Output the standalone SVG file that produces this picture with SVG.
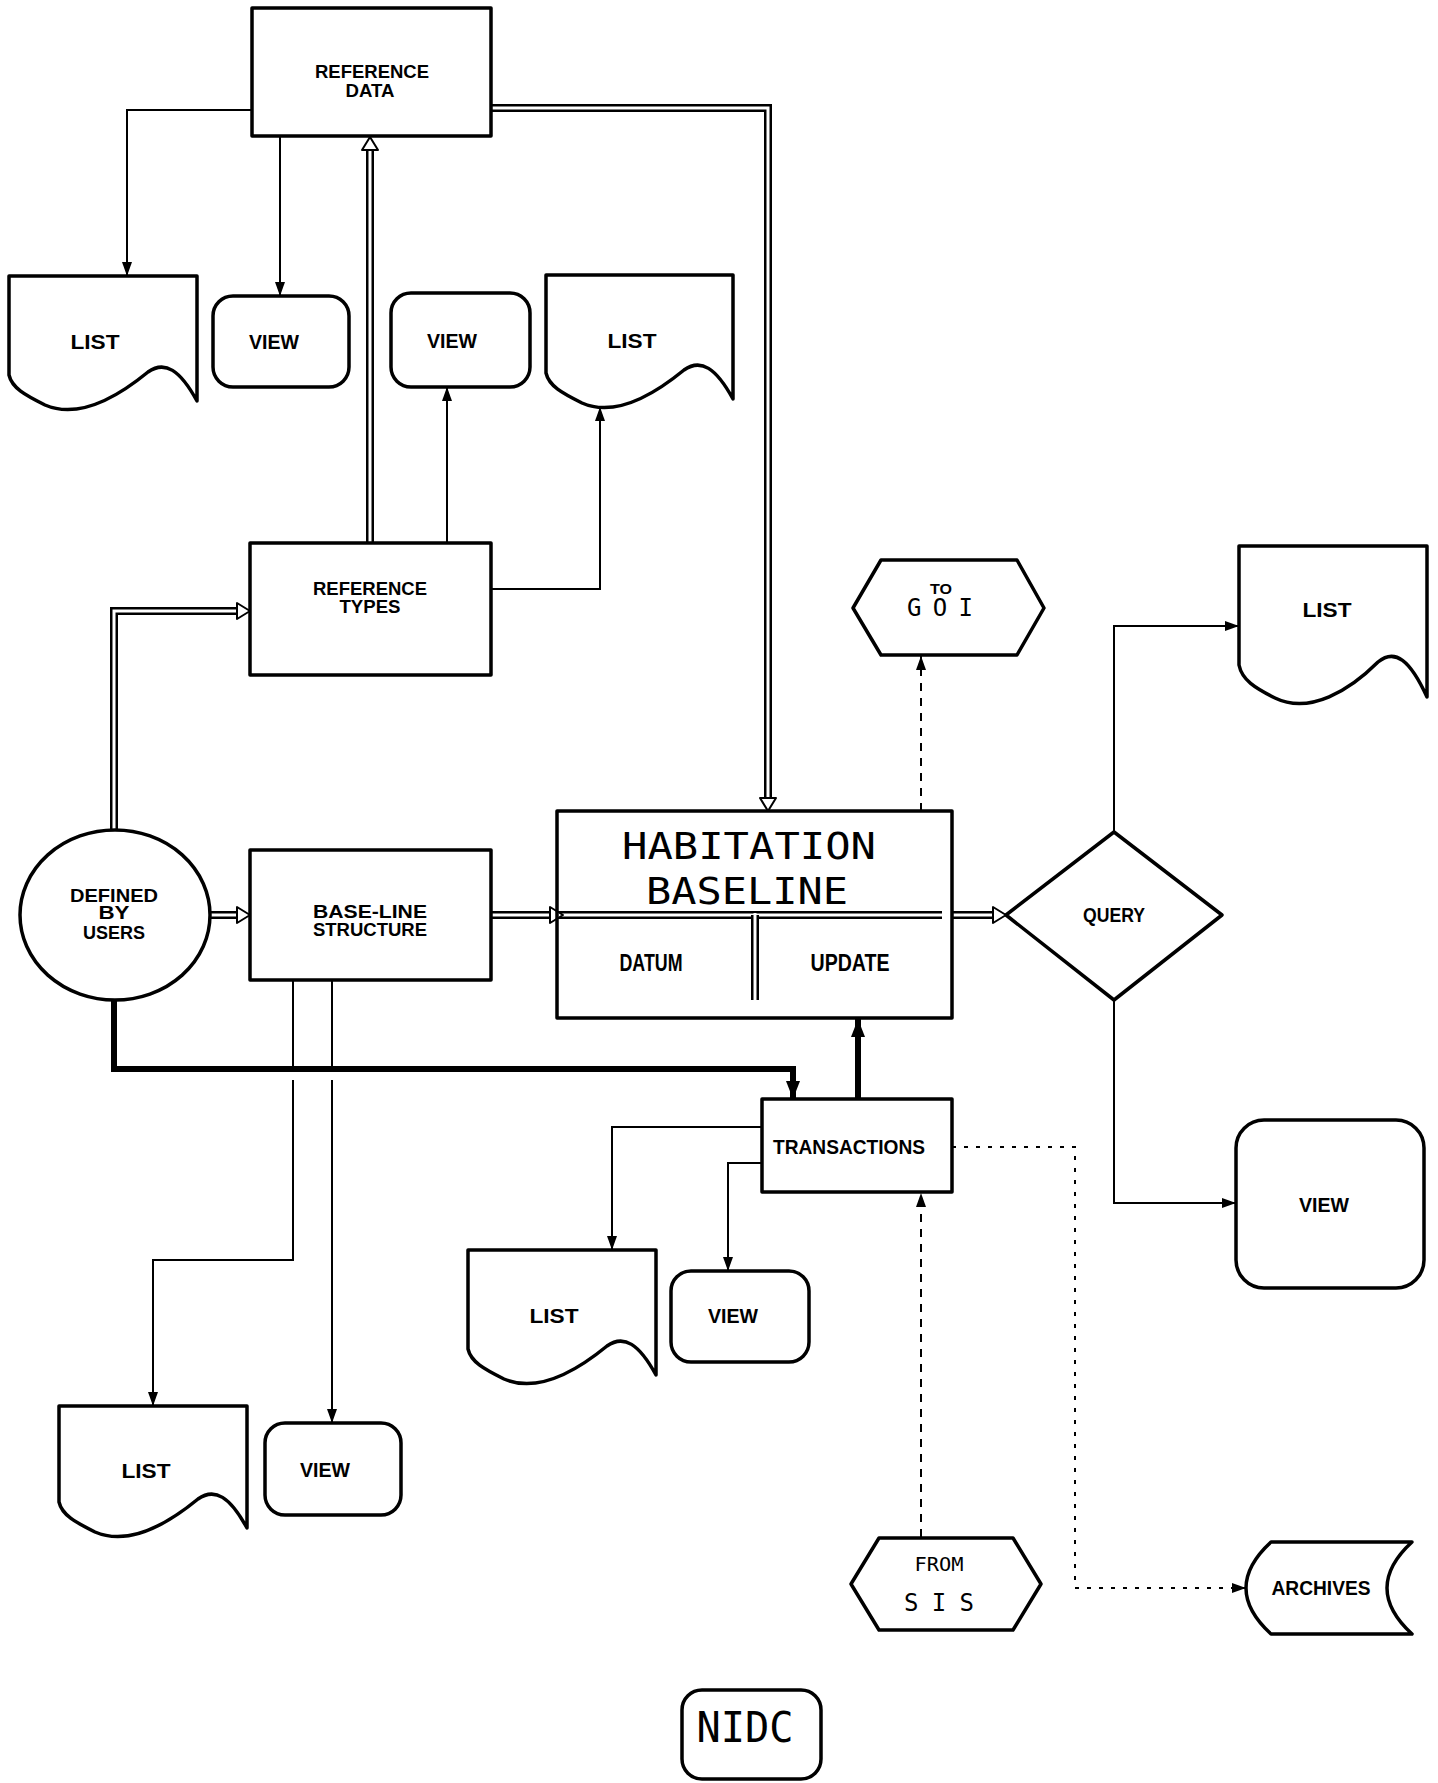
<svg xmlns="http://www.w3.org/2000/svg" xmlns:xlink="http://www.w3.org/1999/xlink" width="1438" height="1783" viewBox="0 0 1438 1783">
<style>
.box{fill:#fff;stroke:#000;stroke-width:3.5;stroke-linejoin:round}
.ln{fill:none;stroke:#000;stroke-width:2}
.thick{fill:none;stroke:#000;stroke-width:6}
.dash{fill:none;stroke:#000;stroke-width:2;stroke-dasharray:8 7}
.dot{fill:none;stroke:#000;stroke-width:2;stroke-dasharray:4 8}
.dbo{fill:none;stroke:#000;stroke-width:8}
.dbi{fill:none;stroke:#fff;stroke-width:3}
.hol{fill:#fff;stroke:#000;stroke-width:2;stroke-linejoin:round}
.t{font-family:"Liberation Sans",Arial,sans-serif;font-weight:bold;font-size:21px;text-anchor:middle;fill:#000}
.s{font-size:18px}
.m{font-family:"DejaVu Sans Mono","Liberation Mono",monospace;font-weight:normal;text-anchor:middle;fill:#000}
</style>
<defs>
<marker id="ah" viewBox="0 0 14 10" refX="14" refY="5" markerWidth="14" markerHeight="10" markerUnits="userSpaceOnUse" orient="auto"><path d="M0,0 L14,5 L0,10 Z" fill="#000"/></marker>
<marker id="ahb" viewBox="0 0 18 14" refX="18" refY="7" markerWidth="18" markerHeight="14" markerUnits="userSpaceOnUse" orient="auto"><path d="M0,0 L18,7 L0,14 Z" fill="#000"/></marker>
<path id="hol" class="hol" d="M0,0 L-13,-8 L-13,8 Z"/>
</defs>

<g id="connectors">
<path class="ln" d="M252,110 H127 V276" marker-end="url(#ah)"/>
<path class="ln" d="M280,136 V296" marker-end="url(#ah)"/>
<path class="ln" d="M447,543 V387" marker-end="url(#ah)"/>
<path class="ln" d="M491,589 H600 V407" marker-end="url(#ah)"/>
<path class="dbo" d="M370,543 V150"/><path class="dbi" d="M370,545 V150"/>
<use xlink:href="#hol" transform="translate(370,137) rotate(-90)"/>
<path class="dbo" d="M491,108 H768 V798"/><path class="dbi" d="M489,108 H768 V798"/>
<use xlink:href="#hol" transform="translate(768,811) rotate(90)"/>
<path class="dbo" d="M114,831 V611 H237"/><path class="dbi" d="M114,833 V611 H237"/>
<use xlink:href="#hol" transform="translate(250,611)"/>
<path class="dbo" d="M209,915 H237"/><path class="dbi" d="M207,915 H237"/>
<use xlink:href="#hol" transform="translate(250,915)"/>
<path class="dbo" d="M491,915 H942"/><path class="dbi" d="M489,915 H942"/>
<path class="dbo" d="M755,915 V1000"/><path class="dbi" d="M755,913 V1000"/>
<use xlink:href="#hol" transform="translate(563,915)"/>
<path class="dbo" d="M952,915 H993"/><path class="dbi" d="M950,915 H993"/>
<use xlink:href="#hol" transform="translate(1006,915)"/>
<path class="ln" d="M1114,832 V626 H1239" marker-end="url(#ah)"/>
<path class="ln" d="M1114,1000 V1203 H1236" marker-end="url(#ah)"/>
<path class="dash" d="M921,811 V656" marker-end="url(#ah)"/>
<path class="thick" d="M114,1000 V1069 H793 V1099" stroke-linejoin="miter" marker-end="url(#ahb)"/>
<path class="thick" d="M858,1099 V1019" marker-end="url(#ahb)"/>
<path class="ln" d="M762,1127 H612 V1250" marker-end="url(#ah)"/>
<path class="ln" d="M762,1163 H728 V1271" marker-end="url(#ah)"/>
<path class="ln" d="M293,980 V1066 M293,1080 V1260 H153 V1406" marker-end="url(#ah)"/>
<path class="ln" d="M332,980 V1066 M332,1080 V1423" marker-end="url(#ah)"/>
<path class="dash" d="M921,1537 V1193" marker-end="url(#ah)"/>
<path class="dot" d="M952,1147 H1075 V1588 H1246" marker-end="url(#ah)"/>
</g>

<g id="reference-data">
<rect class="box" x="252" y="8" width="239" height="128"/>
<text class="t s" x="372" y="78" textLength="114" lengthAdjust="spacingAndGlyphs">REFERENCE</text>
<text class="t s" x="370" y="97" textLength="49" lengthAdjust="spacingAndGlyphs">DATA</text>
</g>
<g id="list-1">
<path class="box" d="M9,276 H197 V401 C180,370 165,360 148,372 C120,395 80,420 45,405 C25,395 12,388 9,375 Z"/>
<text class="t" x="95" y="349" textLength="49" lengthAdjust="spacingAndGlyphs">LIST</text>
</g>
<g id="view-1">
<rect class="box" x="213" y="296" width="136" height="91" rx="20"/>
<text class="t" x="274" y="349" textLength="50" lengthAdjust="spacingAndGlyphs">VIEW</text>
</g>
<g id="view-2">
<rect class="box" x="391" y="293" width="139" height="94" rx="20"/>
<text class="t" x="452" y="348" textLength="50" lengthAdjust="spacingAndGlyphs">VIEW</text>
</g>
<g id="list-2">
<path class="box" d="M546,275 H733 V399 C716,368 701,358 684,370 C656,393 616,418 582,403 C562,393 549,386 546,373 Z"/>
<text class="t" x="632" y="348" textLength="49" lengthAdjust="spacingAndGlyphs">LIST</text>
</g>
<g id="reference-types">
<rect class="box" x="250" y="543" width="241" height="132"/>
<text class="t s" x="370" y="595" textLength="114" lengthAdjust="spacingAndGlyphs">REFERENCE</text>
<text class="t s" x="370" y="613" textLength="61" lengthAdjust="spacingAndGlyphs">TYPES</text>
</g>
<g id="defined-by-users">
<ellipse class="box" cx="115" cy="915" rx="95" ry="85"/>
<text class="t s" x="114" y="902" textLength="88" lengthAdjust="spacingAndGlyphs">DEFINED</text>
<text class="t s" x="114" y="919" textLength="31" lengthAdjust="spacingAndGlyphs">BY</text>
<text class="t s" x="114" y="939" textLength="62" lengthAdjust="spacingAndGlyphs">USERS</text>
</g>
<g id="base-line-structure">
<rect class="box" x="250" y="850" width="241" height="130"/>
<text class="t s" x="370" y="918" textLength="114" lengthAdjust="spacingAndGlyphs">BASE-LINE</text>
<text class="t s" x="370" y="936" textLength="114" lengthAdjust="spacingAndGlyphs">STRUCTURE</text>
</g>
<g id="habitation-baseline">
<rect class="box" x="557" y="811" width="395" height="207" style="fill:none"/>
<text class="m" x="749" y="859" font-size="38" textLength="254" lengthAdjust="spacingAndGlyphs">HABITATION</text>
<text class="m" x="747" y="904" font-size="38" textLength="202" lengthAdjust="spacingAndGlyphs">BASELINE</text>
<text class="t" x="651" y="971" style="font-size:24px" textLength="63" lengthAdjust="spacingAndGlyphs">DATUM</text>
<text class="t" x="850" y="971" style="font-size:24px" textLength="79" lengthAdjust="spacingAndGlyphs">UPDATE</text>
</g>
<g id="to-goi">
<polygon class="box" points="853,608 881,560 1017,560 1044,608 1017,655 881,655"/>
<text class="t" x="941" y="594" style="font-size:14px" textLength="22" lengthAdjust="spacingAndGlyphs">TO</text>
<text class="m" x="940" y="616" font-size="24" font-weight="bold" textLength="66">GOI</text>
</g>
<g id="query">
<polygon class="box" points="1006,915 1114,832 1222,915 1114,1000"/>
<text class="t" x="1114" y="922" textLength="62" lengthAdjust="spacingAndGlyphs">QUERY</text>
</g>
<g id="list-3">
<path class="box" d="M1239,546 H1427 V697 C1410,660 1395,648 1378,662 C1350,690 1310,715 1275,698 C1255,688 1242,680 1239,665 Z"/>
<text class="t" x="1327" y="617" textLength="49" lengthAdjust="spacingAndGlyphs">LIST</text>
</g>
<g id="view-4">
<rect class="box" x="1236" y="1120" width="188" height="168" rx="28"/>
<text class="t" x="1324" y="1212" textLength="50" lengthAdjust="spacingAndGlyphs">VIEW</text>
</g>
<g id="transactions">
<rect class="box" x="762" y="1099" width="190" height="93"/>
<text class="t" x="849" y="1154" textLength="152" lengthAdjust="spacingAndGlyphs">TRANSACTIONS</text>
</g>
<g id="list-4">
<path class="box" d="M468,1250 H656 V1375 C639,1344 624,1334 607,1346 C579,1369 539,1394 504,1379 C484,1369 471,1362 468,1349 Z"/>
<text class="t" x="554" y="1323" textLength="49" lengthAdjust="spacingAndGlyphs">LIST</text>
</g>
<g id="view-5">
<rect class="box" x="671" y="1271" width="138" height="91" rx="20"/>
<text class="t" x="733" y="1323" textLength="50" lengthAdjust="spacingAndGlyphs">VIEW</text>
</g>
<g id="list-5">
<path class="box" d="M59,1406 H247 V1528 C230,1497 215,1487 198,1499 C170,1522 130,1547 95,1532 C75,1522 62,1515 59,1502 Z"/>
<text class="t" x="146" y="1478" textLength="49" lengthAdjust="spacingAndGlyphs">LIST</text>
</g>
<g id="view-6">
<rect class="box" x="265" y="1423" width="136" height="92" rx="20"/>
<text class="t" x="325" y="1477" textLength="50" lengthAdjust="spacingAndGlyphs">VIEW</text>
</g>
<g id="from-sis">
<polygon class="box" points="851,1584 879,1538 1013,1538 1041,1584 1013,1630 879,1630"/>
<text class="m" x="939" y="1571" font-size="20" textLength="49" lengthAdjust="spacingAndGlyphs">FROM</text>
<text class="m" x="939" y="1611" font-size="24" font-weight="bold" textLength="70">SIS</text>
</g>
<g id="archives">
<path class="box" d="M1271,1542 H1412 Q1362,1588 1412,1634 H1271 Q1221,1588 1271,1542 Z"/>
<text class="t" x="1321" y="1595" textLength="99" lengthAdjust="spacingAndGlyphs">ARCHIVES</text>
</g>
<g id="nidc">
<rect class="box" x="682" y="1690" width="139" height="89" rx="20"/>
<text class="m" x="745" y="1742" font-size="42" font-weight="bold" textLength="97" lengthAdjust="spacingAndGlyphs">NIDC</text>
</g>
</svg>
